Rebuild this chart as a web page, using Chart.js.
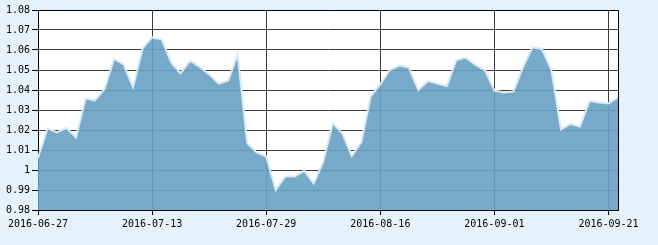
<!DOCTYPE html>
<html>
<head>
<meta charset="utf-8">
<script src="https://cdn.jsdelivr.net/npm/chart.js@4/dist/chart.umd.min.js"></script>
<style>
  html, body { margin: 0; padding: 0; background: #e6f2fb; }
  #chart { display: block; }
</style>
</head>
<body>
<canvas id="chart" width="658" height="245"></canvas>
<script>
// trading days, 2016-06-27 .. 2016-09-22
const dates = [
  "2016-06-27", "2016-06-28", "2016-06-29", "2016-06-30", "2016-07-01",
  "2016-07-04", "2016-07-05", "2016-07-06", "2016-07-07", "2016-07-08",
  "2016-07-11", "2016-07-12", "2016-07-13", "2016-07-14", "2016-07-15",
  "2016-07-18", "2016-07-19", "2016-07-20", "2016-07-21", "2016-07-22",
  "2016-07-25", "2016-07-26", "2016-07-27", "2016-07-28", "2016-07-29",
  "2016-08-01", "2016-08-02", "2016-08-03", "2016-08-04", "2016-08-05",
  "2016-08-08", "2016-08-09", "2016-08-10", "2016-08-11", "2016-08-12",
  "2016-08-15", "2016-08-16", "2016-08-17", "2016-08-18", "2016-08-19",
  "2016-08-22", "2016-08-23", "2016-08-24", "2016-08-25", "2016-08-26",
  "2016-08-29", "2016-08-30", "2016-08-31", "2016-09-01", "2016-09-02",
  "2016-09-05", "2016-09-06", "2016-09-07", "2016-09-08", "2016-09-09",
  "2016-09-12", "2016-09-13", "2016-09-14", "2016-09-19", "2016-09-20",
  "2016-09-21", "2016-09-22"
];

const values = [
  1.006, 1.0208, 1.0188, 1.021, 1.0162,
  1.0358, 1.0348, 1.0405, 1.0555, 1.0528,
  1.0413, 1.0608, 1.0663, 1.0653, 1.0538,
  1.0483, 1.0547, 1.0515, 1.0478, 1.0432,
  1.0447, 1.0578, 1.0133, 1.0088, 1.0067,
  0.990, 0.9967, 0.9967, 0.9997, 0.9933,
  1.0042, 1.0233, 1.0183, 1.007, 1.0138,
  1.037, 1.0428, 1.050, 1.0522, 1.0512,
  1.040, 1.0445, 1.0432, 1.042, 1.055,
  1.0562, 1.0525, 1.050, 1.0397, 1.0388,
  1.0392, 1.0513, 1.0613, 1.0605, 1.050,
  1.0203, 1.023, 1.0217, 1.0345, 1.0338,
  1.0333, 1.0363
];

const yMin = 0.98;
const yMax = 1.08;
const yStep = 0.01;
const xTickEvery = 12;

const gridColor = "#3c3c3c";
const font = { family: "'DejaVu Sans Mono', 'Liberation Mono', monospace", size: 10 };

// white plot background, black frame on top and right
const frame = {
  id: "frame",
  beforeDraw(chart) {
    const a = chart.chartArea;
    const ctx = chart.ctx;
    ctx.save();
    ctx.fillStyle = "#fff";
    ctx.fillRect(a.left, a.top, a.right - a.left, a.bottom - a.top);
    ctx.restore();
  },
  afterDraw(chart) {
    const a = chart.chartArea;
    const ctx = chart.ctx;
    ctx.save();
    ctx.strokeStyle = "#000";
    ctx.lineWidth = 1;
    ctx.beginPath();
    ctx.moveTo(Math.round(a.left) + 0.5, Math.round(a.top) + 0.5);
    ctx.lineTo(Math.round(a.right) + 0.5, Math.round(a.top) + 0.5);
    ctx.lineTo(Math.round(a.right) + 0.5, Math.round(a.bottom) + 0.5);
    ctx.stroke();
    ctx.restore();
  }
};

const chart = new Chart(document.getElementById("chart"), {
  type: "line",
  data: {
    labels: dates,
    datasets: [{
      data: values,
      borderColor: "#d6eaf8",
      borderWidth: 2,
      backgroundColor: "rgba(104,161,194,0.9)",
      fill: "start",
      tension: 0,
      pointRadius: 0
    }]
  },
  options: {
    responsive: false,
    animation: false,
    layout: { padding: { top: 10, right: 40, left: 0, bottom: 0 } },
    plugins: {
      legend: { display: false },
      tooltip: { enabled: false }
    },
    scales: {
      x: {
        type: "category",
        offset: false,
        afterBuildTicks: s => { s.ticks = s.ticks.filter(t => t.value % xTickEvery === 0); },
        afterFit: s => { s.height = 35; },
        ticks: {
          autoSkip: false,
          maxRotation: 0,
          minRotation: 0,
          color: "#000",
          font: font,
          padding: 3
        },
        grid: { color: gridColor, tickColor: "#000", tickLength: 5, lineWidth: 1 },
        border: { color: "#000", width: 1 }
      },
      y: {
        min: yMin,
        max: yMax,
        afterFit: s => { s.width = 38; },
        ticks: {
          stepSize: yStep,
          color: "#000",
          font: font,
          padding: 2,
          callback: v => String(+v.toFixed(2))
        },
        grid: { color: gridColor, tickColor: "#000", tickLength: 6, lineWidth: 1 },
        border: { color: "#000", width: 1 }
      }
    }
  },
  plugins: [frame]
});
</script>
</body>
</html>
